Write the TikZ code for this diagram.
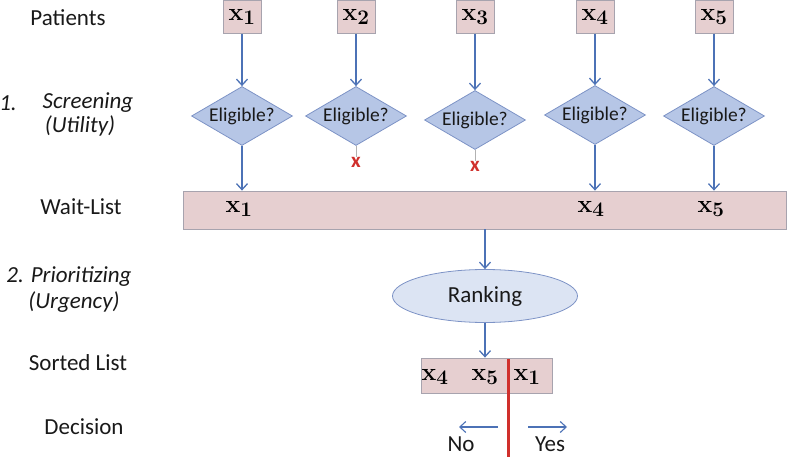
\documentclass[tikz,border=0pt]{standalone}
\usepackage[no-math]{fontspec}
\setmainfont{Carlito}
\usepackage{amsmath}
\usepackage{tikz}
\usetikzlibrary{arrows.meta, positioning, shapes.geometric}
\definecolor{wlBox}{HTML}{E6CFD0}
\definecolor{wlEdge}{HTML}{A7A3AE}
\definecolor{wlDiam}{HTML}{B6C6E6}
\definecolor{wlDiamEdge}{HTML}{7D93C6}
\definecolor{wlOval}{HTML}{DCE4F3}
\definecolor{wlArrow}{HTML}{4C72B6}
\definecolor{wlRed}{HTML}{D0302C}

\begin{document}
\begin{tikzpicture}[x=1pt, y=-1pt,
  patient/.style={draw=wlEdge, fill=wlBox, minimum width=38pt, minimum height=33pt,
                  inner sep=0pt, font=\fontsize{28}{30}\selectfont},
  check/.style={diamond, draw=wlDiamEdge, fill=wlDiam, aspect=1.7, inner sep=0pt,
                minimum width=101pt, minimum height=59pt, line width=0.8pt,
                font=\fontsize{19.5}{21}\selectfont, text=black!90},
  listbox/.style={draw=wlEdge, fill=wlBox, inner sep=0pt, line width=0.8pt},
  item/.style={inner sep=0pt, font=\fontsize{28}{30}\selectfont},
  rowlab/.style={font=\fontsize{23}{26}\selectfont, text=black!90},
  rowit/.style={font=\fontsize{23}{26}\selectfont\itshape, text=black!90},
  rej/.style={text=wlRed, font=\fontsize{21}{22}\selectfont\bfseries, inner sep=0pt},
  arr/.style={-{Straight Barb[length=6pt,width=11pt]}, wlArrow, line width=1.3pt}
]
  \useasboundingbox (0,0) rectangle (793,457);

  % row labels
  \node[rowlab] (patients) at (68,18) {Patients};
  \node[rowit] (one) at (8,103) {1.};
  \node[rowit] (screen) at (88,103) {Screening};
  \node[rowit] (util) at (80,126) {(Utility)};
  \node[rowlab] (waitlab) at (81,207) {Wait-List};
  \node[rowit] (prio) at (69,277) {2. Prioritizing};
  \node[rowit] (urg) at (74,302) {(Urgency)};
  \node[rowlab] (sortlab) at (78,363) {Sorted List};
  \node[rowlab] (declab) at (84,427) {Decision};

  % patients and screening
  \node[patient] (p1) at (242,17) {$\mathbf{x_1}$};
  \node[patient] (p2) at (356,17) {$\mathbf{x_2}$};
  \node[patient] (p3) at (475,17) {$\mathbf{x_3}$};
  \node[patient] (p4) at (595,17) {$\mathbf{x_4}$};
  \node[patient] (p5) at (714,17) {$\mathbf{x_5}$};

  \node[check] (e1) at (242,116) {Eligible?};
  \node[check] (e2) at (356,116) {Eligible?};
  \node[check] (e3) at (475,120) {Eligible?};
  \node[check] (e4) at (595,115) {Eligible?};
  \node[check] (e5) at (714,116) {Eligible?};

  \node[rej] (r2) at (356,162) {x};
  \node[rej] (r3) at (475,166) {x};

  % wait-list
  \node[listbox, minimum width=603pt, minimum height=38pt] (wait) at (484.5,210) {};
  \node[item] (w1) at (239,209) {$\mathbf{x_1}$};
  \node[item] (w4) at (591,209) {$\mathbf{x_4}$};
  \node[item] (w5) at (711,209) {$\mathbf{x_5}$};

  % ranking and sorted list
  \node[ellipse, draw=wlDiamEdge, fill=wlOval, line width=0.8pt, minimum width=185pt,
        minimum height=53pt, font=\fontsize{23}{26}\selectfont, text=black!90] (rank) at (485,296) {Ranking};
  \node[listbox, minimum width=131pt, minimum height=35pt] (sorted) at (486.5,375.5) {};
  \node[item] (s4) at (435,377) {$\mathbf{x_4}$};
  \node[item] (s5) at (485,377) {$\mathbf{x_5}$};
  \node[item] (s1) at (527,377) {$\mathbf{x_1}$};

  % decision
  \coordinate (cutTop) at (508,359);
  \coordinate (cutBot) at (508,457);
  \coordinate (noFrom) at (498,427);
  \coordinate (noTo) at (459,427);
  \coordinate (yesFrom) at (528,427);
  \coordinate (yesTo) at (567,427);
  \node[rowlab] (no) at (461,444) {No};
  \node[rowlab] (yes) at (550,444) {Yes};

  \foreach \i in {1,...,5}
    \draw[arr] (p\i) -- (e\i);
  \foreach \i in {1,4,5}
    \draw[arr] (e\i) -- (e\i |- wait.north);
  \draw[black!30, line width=0.6pt] (e2.south) -- (r2.north);
  \draw[black!30, line width=0.6pt] (e3.south) -- (r3.north);
  \draw[arr] (rank.north |- wait.south) -- (rank.north);
  \draw[arr] (rank.south) -- (rank.south |- sorted.north);
  \draw[wlRed, line width=3pt] (cutTop) -- (cutBot);
  \draw[arr, line width=1.1pt] (noFrom) -- (noTo);
  \draw[arr, line width=1.1pt] (yesFrom) -- (yesTo);
\end{tikzpicture}
\end{document}
